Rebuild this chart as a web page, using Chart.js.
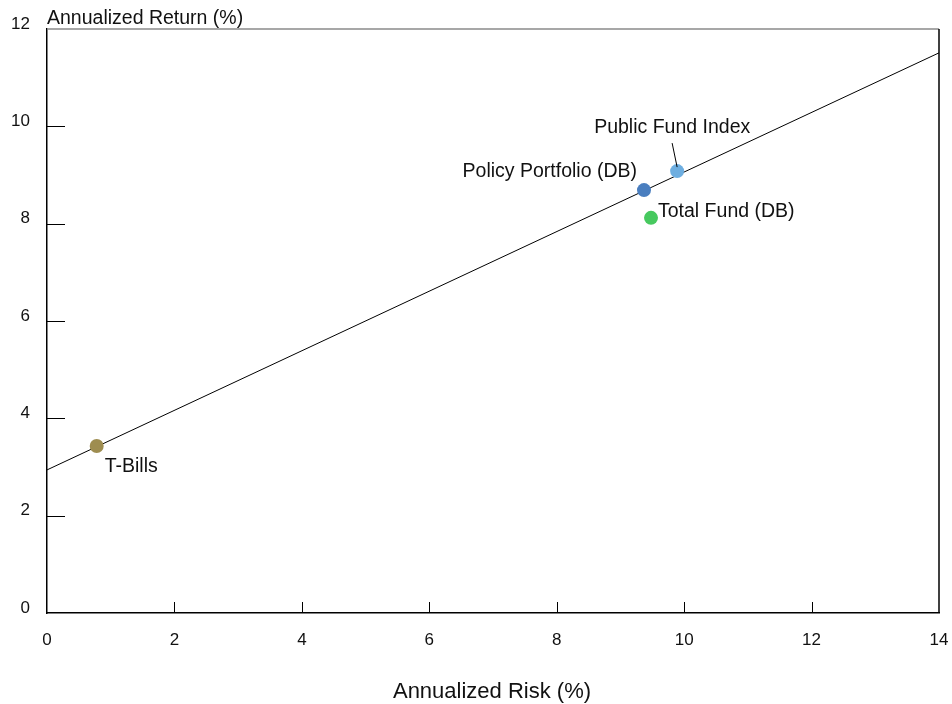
<!DOCTYPE html>
<html>
<head>
<meta charset="utf-8">
<script src="https://cdn.jsdelivr.net/npm/chart.js@4"></script>
<style>
html,body{margin:0;padding:0;background:#fff;}
#wrap{width:952px;height:704px;position:relative;}
</style>
</head>
<body>
<div id="wrap"><canvas id="c" width="952" height="704"></canvas></div>
<script>
const FONT = '"Liberation Sans", Arial, sans-serif';
const names = ['T-Bills', 'Policy Portfolio (DB)', 'Public Fund Index', 'Total Fund (DB)'];
const riskValues = [0.78, 9.37, 9.89, 9.48];
const returnValues = [3.43, 8.69, 9.08, 8.12];
const pointColors = ['#9E8D50', '#4A7EBF', '#6EAEE0', '#47C95F'];
const lineX = [0, 14];
const lineY = [2.94, 11.51];
const xTicks = [0, 2, 4, 6, 8, 10, 12, 14];
const yTicks = [0, 2, 4, 6, 8, 10, 12];
const xTitle = 'Annualized Risk (%)';
const yTitle = 'Annualized Return (%)';

// label placement: [dx, dy, align]
const labelPos = [
  [8, 21, 'left'],
  [-7, -18, 'right'],
  [-83, -43, 'left'],
  [7, -6, 'left']
];

const decor = {
  id: 'decor',
  afterDraw(chart) {
    const ctx = chart.ctx, a = chart.chartArea;
    const xs = chart.scales.x, ys = chart.scales.y;
    ctx.save();
    // top border gray
    ctx.strokeStyle = '#8a8a8a'; ctx.lineWidth = 1.5;
    ctx.beginPath(); ctx.moveTo(a.left, a.top); ctx.lineTo(a.right, a.top); ctx.stroke();
    // right border
    ctx.strokeStyle = '#000'; ctx.lineWidth = 1.5;
    ctx.beginPath(); ctx.moveTo(a.right, a.top); ctx.lineTo(a.right, a.bottom); ctx.stroke();
    // inner ticks
    ctx.lineWidth = 1;
    xTicks.forEach(v => {
      if (v === 0 || v === 14) return;
      const px = Math.round(xs.getPixelForValue(v)) + 0.5;
      ctx.beginPath(); ctx.moveTo(px, a.bottom); ctx.lineTo(px, a.bottom - 11); ctx.stroke();
    });
    yTicks.forEach(v => {
      if (v === 0 || v === 12) return;
      const py = Math.round(ys.getPixelForValue(v)) + 0.5;
      ctx.beginPath(); ctx.moveTo(a.left, py); ctx.lineTo(a.left + 18, py); ctx.stroke();
    });
    // titles
    ctx.fillStyle = '#111';
    ctx.font = '19.5px ' + FONT;
    ctx.textAlign = 'left'; ctx.textBaseline = 'alphabetic';
    ctx.fillText(yTitle, a.left, 24);
    ctx.font = '22px ' + FONT;
    ctx.textAlign = 'center'; ctx.textBaseline = 'middle';
    ctx.fillText(xTitle, 492, 692);
    // point labels
    ctx.font = '19.5px ' + FONT;
    ctx.textBaseline = 'middle';
    names.forEach((n, i) => {
      const px = xs.getPixelForValue(riskValues[i]);
      const py = ys.getPixelForValue(returnValues[i]);
      const [dx, dy, al] = labelPos[i];
      ctx.textAlign = al;
      ctx.fillText(n, px + dx, py + dy);
    });
    // leader line for Public Fund Index
    const px = xs.getPixelForValue(riskValues[2]);
    const py = ys.getPixelForValue(returnValues[2]);
    ctx.strokeStyle = '#000'; ctx.lineWidth = 1;
    ctx.beginPath(); ctx.moveTo(px - 5, py - 28); ctx.lineTo(px, py - 4); ctx.stroke();
    ctx.restore();
  }
};

new Chart(document.getElementById('c'), {
  type: 'scatter',
  data: {
    datasets: [
      {
        type: 'line',
        data: lineX.map((x, i) => ({x, y: lineY[i]})),
        borderColor: '#000', borderWidth: 1, pointRadius: 0, fill: false, order: 2
      },
      {
        data: riskValues.map((x, i) => ({x, y: returnValues[i]})),
        backgroundColor: pointColors, borderColor: pointColors,
        pointRadius: 7, pointHoverRadius: 7, borderWidth: 0, order: 1
      }
    ]
  },
  plugins: [decor],
  options: {
    responsive: false, animation: false,
    layout: { padding: { top: 29, right: 13, left: 0, bottom: 0 } },
    plugins: { legend: { display: false }, tooltip: { enabled: false } },
    scales: {
      x: {
        type: 'linear', min: 0, max: 14,
        afterFit(s) { s.height = 91; s.paddingLeft = 0; s.paddingRight = 0; },
        afterBuildTicks(s) { s.ticks = xTicks.map(v => ({value: v})); },
        grid: { display: false, drawTicks: false },
        border: { display: true, color: '#000', width: 1.5 },
        ticks: { color: '#111', font: { family: FONT, size: 17 }, padding: 17, maxRotation: 0 }
      },
      y: {
        type: 'linear', min: 0, max: 12,
        afterFit(s) { s.width = 47; s.paddingTop = 0; s.paddingBottom = 0; },
        afterBuildTicks(s) { s.ticks = yTicks.map(v => ({value: v})); },
        grid: { display: false, drawTicks: false },
        border: { display: true, color: '#000', width: 1.5 },
        ticks: { color: '#111', font: { family: FONT, size: 17 }, padding: 17, labelOffset: -5 }
      }
    }
  }
});
</script>
</body>
</html>
